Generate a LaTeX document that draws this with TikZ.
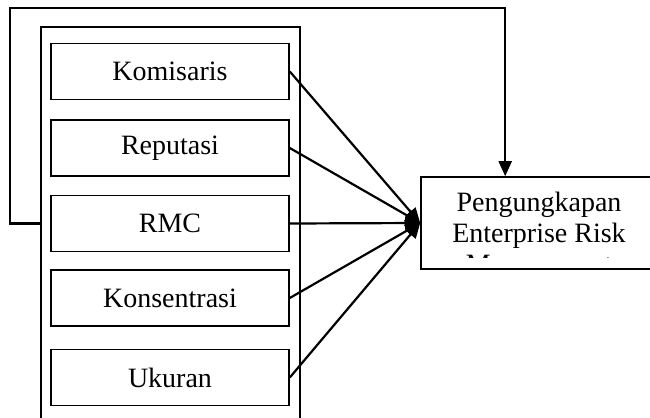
\documentclass[tikz,border=0pt]{standalone}
\usepackage{fontspec}
\setmainfont{Liberation Serif}
\usetikzlibrary{arrows.meta}

\begin{document}
\begin{tikzpicture}
[x=0.5pt,y=-0.5pt,
varbox/.style={draw,black,line width=0.8pt,minimum width=119pt,minimum height=28pt,inner sep=0pt,font=\fontsize{14}{15.5}\selectfont},
panelbox/.style={draw,black,line width=0.8pt,minimum width=129.5pt,minimum height=203pt,inner sep=0pt},
outbox/.style={draw,black,line width=0.8pt,minimum width=118pt,minimum height=46pt,inner sep=0pt},
blackarrow/.style={-{Triangle[length=7.5pt,width=6.5pt]},black,line width=1.1pt}]

\useasboundingbox (0,0) rectangle (650,418);

% panel with the variables
\node[panelbox](panel) at (170.5,230){};
\node[varbox](kom) at (170,71.5){Komisaris};
\node[varbox](rep) at (170,148){Reputasi};
\node[varbox](rmc) at (170,223.5){RMC};
\node[varbox](kon) at (170,298){Konsentrasi};
\node[varbox](uku) at (170,377.5){Ukuran};

% disclosure box
\node[outbox](out) at (539,223){};
\begin{scope}
\clip (out.north west) rectangle ([yshift=6.3pt]out.south east);
\node[align=center,anchor=base,inner sep=0pt,font=\fontsize{14}{15.5}\selectfont](outtext) at (539,273){Pengungkapan\\Enterprise Risk\\Management};
\end{scope}

% arrows
\foreach \v in {kom,rep,rmc,kon,uku}
  \draw[blackarrow] (\v.east) -- (out.west);

% feedback line
\coordinate (fbcorner) at (10,8);
\draw[blackarrow] (panel.west |- rmc) -- (fbcorner |- rmc) -- (fbcorner) -| ([xshift=42.5pt]out.north west);

\end{tikzpicture}
\end{document}
